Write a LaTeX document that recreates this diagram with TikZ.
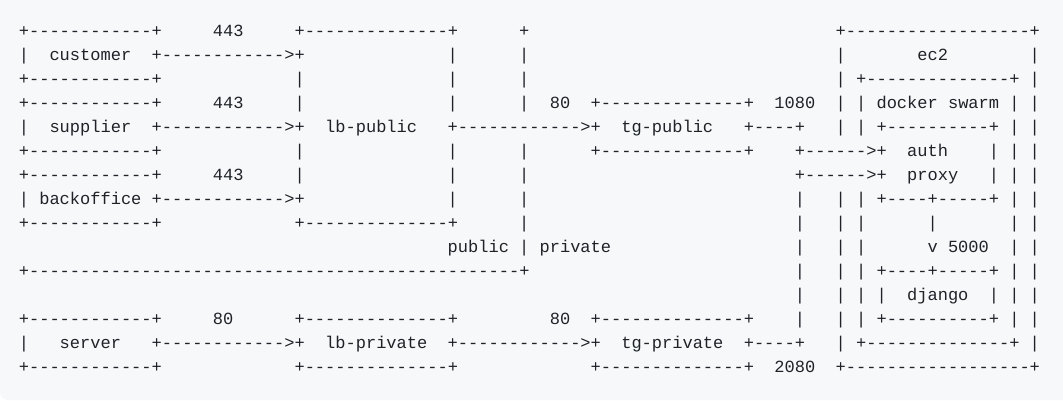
\documentclass[tikz,border=0pt]{standalone}
\usepackage{fontspec}
\setmonofont{Liberation Mono}
\definecolor{bgc}{HTML}{F6F8FA}
\definecolor{txc}{HTML}{1F2328}
\tikzset{
  txt/.style={anchor=base west, inner sep=0pt, outer sep=0pt, text=txc,
    font=\ttfamily\fontsize{17.02pt}{20pt}\selectfont}
}
\newcommand\sg[4]{\node[txt] (#1) at ({18.9pt+#2*10.21pt},{-36pt-(#3-1)*24pt}) {#4};}
\begin{document}
\begin{tikzpicture}
\useasboundingbox (0,0) rectangle (1063pt,-400pt);
\fill[white] (0,0) rectangle (1063pt,-400pt);
\fill[bgc] (0,0) -- (1063pt,0) -- (1063pt,-400pt) -- (8pt,-400pt) arc (270:180:8pt) -- cycle;
% line 1
\sg{a1}{0}{1}{+------------+}
\sg{b1}{19}{1}{443}
\sg{c1}{27}{1}{+--------------+}
\sg{d1}{49}{1}{+}
\sg{e1}{80}{1}{+------------------+}
% line 2
\sg{a2}{0}{2}{|}
\sg{b2}{3}{2}{customer}
\sg{c2}{13}{2}{+------------>+}
\sg{d2}{42}{2}{|}
\sg{e2}{49}{2}{|}
\sg{f2}{80}{2}{|}
\sg{g2}{88}{2}{ec2}
\sg{h2}{99}{2}{|}
% line 3
\sg{a3}{0}{3}{+------------+}
\sg{b3}{27}{3}{|}
\sg{c3}{42}{3}{|}
\sg{d3}{49}{3}{|}
\sg{e3}{80}{3}{| +--------------+ |}
% line 4
\sg{a4}{0}{4}{+------------+}
\sg{b4}{19}{4}{443}
\sg{c4}{27}{4}{|}
\sg{d4}{42}{4}{|}
\sg{e4}{49}{4}{|}
\sg{f4}{52}{4}{80}
\sg{g4}{56}{4}{+--------------+}
\sg{h4}{74}{4}{1080}
\sg{i4}{80}{4}{| | docker swarm | |}
% line 5
\sg{a5}{0}{5}{|}
\sg{b5}{3}{5}{supplier}
\sg{c5}{13}{5}{+------------>+}
\sg{d5}{30}{5}{lb-public}
\sg{e5}{42}{5}{+------------>+}
\sg{f5}{59}{5}{tg-public}
\sg{g5}{71}{5}{+----+}
\sg{h5}{80}{5}{| | +----------+ | |}
% line 6
\sg{a6}{0}{6}{+------------+}
\sg{b6}{27}{6}{|}
\sg{c6}{42}{6}{|}
\sg{d6}{49}{6}{|}
\sg{e6}{56}{6}{+--------------+}
\sg{f6}{76}{6}{+------>+}
\sg{g6}{87}{6}{auth}
\sg{h6}{95}{6}{| | |}
% line 7
\sg{a7}{0}{7}{+------------+}
\sg{b7}{19}{7}{443}
\sg{c7}{27}{7}{|}
\sg{d7}{42}{7}{|}
\sg{e7}{49}{7}{|}
\sg{f7}{76}{7}{+------>+}
\sg{g7}{87}{7}{proxy}
\sg{h7}{95}{7}{| | |}
% line 8
\sg{a8}{0}{8}{| backoffice +------------>+}
\sg{b8}{42}{8}{|}
\sg{c8}{49}{8}{|}
\sg{d8}{76}{8}{|}
\sg{e8}{80}{8}{| | +----+-----+ | |}
% line 9
\sg{a9}{0}{9}{+------------+}
\sg{b9}{27}{9}{+--------------+}
\sg{c9}{49}{9}{|}
\sg{d9}{76}{9}{|}
\sg{e9}{80}{9}{| |}
\sg{f9}{89}{9}{|}
\sg{g9}{97}{9}{| |}
% line 10
\sg{a10}{42}{10}{public | private}
\sg{b10}{76}{10}{|}
\sg{c10}{80}{10}{| |}
\sg{d10}{89}{10}{v 5000}
\sg{e10}{97}{10}{| |}
% line 11
\sg{a11}{0}{11}{+------------------------------------------------+}
\sg{b11}{76}{11}{|}
\sg{c11}{80}{11}{| | +----+-----+ | |}
% line 12
\sg{a12}{76}{12}{|}
\sg{b12}{80}{12}{| | |}
\sg{c12}{87}{12}{django}
\sg{d12}{95}{12}{| | |}
% line 13
\sg{a13}{0}{13}{+------------+}
\sg{b13}{19}{13}{80}
\sg{c13}{27}{13}{+--------------+}
\sg{d13}{52}{13}{80}
\sg{e13}{56}{13}{+--------------+}
\sg{f13}{76}{13}{|}
\sg{g13}{80}{13}{| | +----------+ | |}
% line 14
\sg{a14}{0}{14}{|}
\sg{b14}{4}{14}{server}
\sg{c14}{13}{14}{+------------>+}
\sg{d14}{30}{14}{lb-private}
\sg{e14}{42}{14}{+------------>+}
\sg{f14}{59}{14}{tg-private}
\sg{g14}{71}{14}{+----+}
\sg{h14}{80}{14}{| +--------------+ |}
% line 15
\sg{a15}{0}{15}{+------------+}
\sg{b15}{27}{15}{+--------------+}
\sg{c15}{56}{15}{+--------------+}
\sg{d15}{74}{15}{2080}
\sg{e15}{80}{15}{+------------------+}
\end{tikzpicture}
\end{document}
